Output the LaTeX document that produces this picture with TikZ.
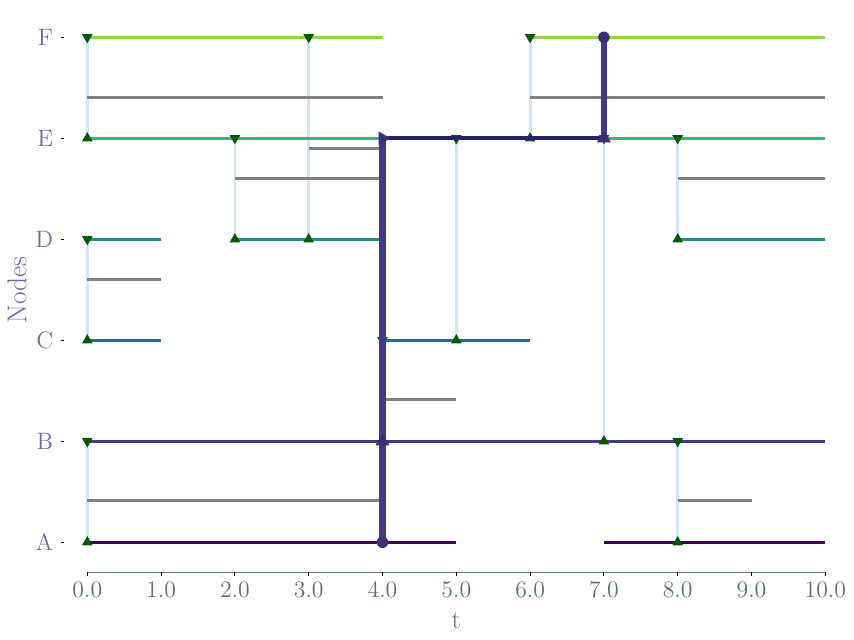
\documentclass[tikz,border=0pt]{standalone}
\usetikzlibrary{shapes.geometric}

\definecolor{nodeA}{HTML}{440154}
\definecolor{nodeB}{HTML}{443983}
\definecolor{nodeC}{HTML}{31688E}
\definecolor{nodeD}{HTML}{21918C}
\definecolor{nodeE}{HTML}{35B779}
\definecolor{nodeF}{HTML}{90D743}
\definecolor{contactblue}{HTML}{D3E4F2}
\definecolor{gapgray}{HTML}{808080}
\definecolor{markgreen}{HTML}{005A00}
\definecolor{routeviolet}{HTML}{45388B}
\definecolor{routenavy}{HTML}{26226E}
\definecolor{axisteal}{HTML}{5F7D7D}
\definecolor{ticklabel}{HTML}{577474}
\definecolor{nodelabel}{HTML}{6A6A9E}

\tikzset{
  nodeline/.style={line width=1.7pt},
  gapline/.style={draw=gapgray, line width=1.7pt},
  contact/.style={draw=contactblue, line width=1.6pt},
  triup/.style={regular polygon, regular polygon sides=3, fill=markgreen,
    inner sep=0pt, minimum size=0.245cm},
  tridown/.style={triup, shape border rotate=180},
  routev/.style={draw=routeviolet, line width=3.7pt},
  routeh/.style={draw=routenavy, line width=2.1pt},
  routemark/.style={triup, fill=routeviolet!85!black, minimum size=0.32cm},
  routedot/.style={circle, fill=routeviolet!85!black, inner sep=0pt, minimum size=0.23cm},
}

\begin{document}
\begin{tikzpicture}[x=1.476cm, y=2.02cm]
\useasboundingbox (-1.183,-0.967) rectangle (10.389,5.369);

% contacts
\foreach \t/\a/\b in {0/0/1, 0/2/3, 0/4/5, 2/3/4, 3/3/5, 4/1/2, 5/2/4, 6/4/5, 7/1/4, 8/0/1, 8/3/4}
  \draw[contact] (\t,\a) -- (\t,\b);

% waiting times
\foreach \y/\s/\e in {0.414/0/4, 0.414/8/9, 1.413/4/5, 2.606/0/1, 3.606/2/4, 3.606/8/10,
    3.90/3/4, 4.408/0/4, 4.408/6/10}
  \draw[gapline] (\s,\y) -- (\e,\y);

% node timelines
\draw[nodeline, nodeA] (0,0) -- (5,0);
\draw[nodeline, nodeA] (7,0) -- (10,0);
\draw[nodeline, nodeB] (0,1) -- (10,1);
\draw[nodeline, nodeC] (0,2) -- (1,2);
\draw[nodeline, nodeC] (4,2) -- (6,2);
\draw[nodeline, nodeD] (0,3) -- (1,3);
\draw[nodeline, nodeD] (2,3) -- (4,3);
\draw[nodeline, nodeD] (8,3) -- (10,3);
\draw[nodeline, nodeE] (0,4) -- (10,4);
\draw[nodeline, nodeF] (0,5) -- (4,5);
\draw[nodeline, nodeF] (6,5) -- (10,5);

% contact ends
\foreach \t/\k in {0/0, 0/2, 0/4, 2/3, 3/3, 4/1, 5/2, 6/4, 7/1, 8/0, 8/3}
  \node[triup] (up-\t-\k) at (\t,\k) {};
\foreach \t/\k in {0/1, 0/3, 0/5, 2/4, 3/5, 4/2, 5/4, 6/5, 7/4, 8/1, 8/4}
  \node[tridown] (down-\t-\k) at (\t,\k) {};

% route
\draw[routev] (4,0) -- (4,4);
\draw[routeh] (4,4) -- (7,4);
\draw[routev] (7,4) -- (7,5);
\node[routedot] (route-start) at (4,0) {};
\node[routemark] (route-b) at (4,1) {};
\node[routemark, shape border rotate=-90] (route-e) at (4,4) {};
\node[routemark] (route-up) at (7,4) {};
\node[routedot] (route-end) at (7,5) {};

% x axis
\draw[axisteal, line width=0.6pt] (0,-0.297) -- (10,-0.297);
\foreach \i in {0,...,10} {
  \draw[black, line width=0.5pt] (\i,-0.297) -- (\i,-0.337);
  \node[ticklabel, font=\fontsize{13.5}{15}\selectfont] (xl\i) at (\i,-0.472) {\i.0};
}
\node[ticklabel, font=\fontsize{15}{17}\selectfont] (xlabel) at (5,-0.77) {t};

% y axis
\foreach \k/\name in {0/A, 1/B, 2/C, 3/D, 4/E, 5/F} {
  \draw[black, line width=0.4pt] (-0.356,\k) -- (-0.316,\k);
  \node[nodelabel, anchor=east, font=\fontsize{13.5}{15}\selectfont] (yl\name) at (-0.38,\k) {\name};
}
\node[nodelabel, rotate=90, font=\fontsize{15.5}{17}\selectfont] (ylabel) at (-0.953,2.5) {Nodes};
\end{tikzpicture}
\end{document}
